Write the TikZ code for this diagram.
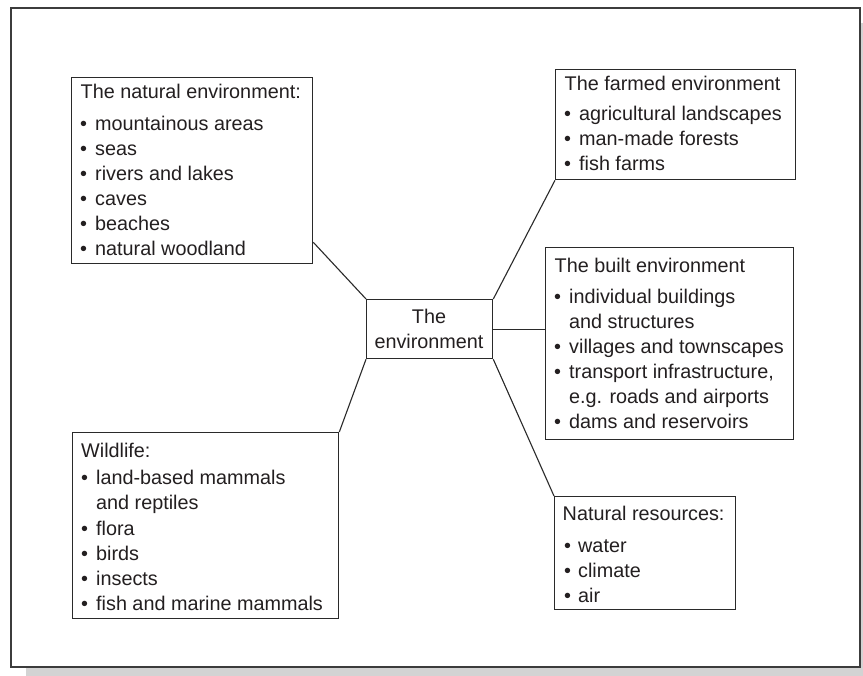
\documentclass[tikz,border=0pt]{standalone}
\usepackage{fontspec}
\setmainfont{Liberation Sans}
\usetikzlibrary{calc}
\definecolor{textc}{HTML}{231F20}
\definecolor{boxc}{HTML}{2A2A2A}
\definecolor{framec}{HTML}{3C3C3C}
\definecolor{shadowc}{HTML}{D3D3D3}
\newcommand\mkbox[5]{\node[box, minimum width=#4pt, minimum height=#5pt] (#1) at (#2,#3) {};}
\newcommand\bitem[4]{\node[txt] at (#1,#3) {\textbullet}; \node[txt] at (#2,#3) {#4};}
\begin{document}
\begin{tikzpicture}[x=1pt,y=-1pt,
  box/.style={draw=boxc, line width=1.3pt, fill=white, inner sep=0pt, anchor=north west},
  txt/.style={anchor=base west, inner sep=0pt, font=\fontsize{19.8}{24}\selectfont, text=textc},
  link/.style={draw=boxc, line width=1.1pt}]
\useasboundingbox (0,0) rectangle (863,676);
\fill[white] (0,0) rectangle (863,676);
% shadow and frame
\fill[shadowc] (26,23) rectangle (863,676);
\draw[framec, line width=2pt, fill=white] (11,8) rectangle (860,667);
% centre
\node[box, minimum width=126pt, minimum height=59pt] (ctr) at (366,299) {};
% boxes
\mkbox{nat}{71}{77}{241}{186}
\mkbox{farm}{555}{69}{240}{110}
\mkbox{built}{545}{247}{248}{192}
\mkbox{wild}{72}{432}{266}{186}
\mkbox{res}{554}{496}{181}{113}
% connectors
\draw[link] ($(nat.south east)+(0,-22)$) -- (ctr.north west);
\draw[link] (ctr.north east) -- (farm.south west);
\draw[link] (ctr.east) -- (ctr.east -| built.west);
\draw[link] (ctr.south east) -- (res.north west);
\draw[link] (ctr.south west) -- (wild.north east);
% centre text
\node[txt, anchor=base] (ct1) at (429,324) {The};
\node[txt, anchor=base] (ct2) at (429,349) {environment};
% natural
\node[txt] (natH) at (80.5,99) {The natural environment:};
\bitem{80}{95}{131}{mountainous areas}
\bitem{80}{95}{156}{seas}
\bitem{80}{95}{181}{rivers and lakes}
\bitem{80}{95}{206}{caves}
\bitem{80}{95}{231}{beaches}
\bitem{80}{95}{256}{natural woodland}
% farmed
\node[txt] (farmH) at (564.5,91) {The farmed environment};
\bitem{564}{579}{121}{agricultural landscapes}
\bitem{564}{579}{146}{man-made forests}
\bitem{564}{579}{171}{fish farms}
% built
\node[txt] (builtH) at (554.5,273) {The built environment};
\bitem{554}{569}{304}{individual buildings}
\node[txt] (b2) at (569,329) {and structures};
\bitem{554}{569}{354}{villages and townscapes}
\bitem{554}{569}{379}{transport infrastructure,}
\node[txt] (b5) at (569,404) {e.g. roads and airports};
\bitem{554}{569}{429}{dams and reservoirs}
% wildlife
\node[txt] (wildH) at (81,457) {Wildlife:};
\bitem{81}{96}{485}{land-based mammals}
\node[txt] (w2) at (96,510) {and reptiles};
\bitem{81}{96}{535}{flora}
\bitem{81}{96}{560}{birds}
\bitem{81}{96}{585}{insects}
\bitem{81}{96}{610}{fish and marine mammals}
% resources
\node[txt] (resH) at (562.5,521) {Natural resources:};
\bitem{564}{578}{552}{water}
\bitem{564}{578}{577}{climate}
\bitem{564}{578}{602}{air}
\end{tikzpicture}
\end{document}
